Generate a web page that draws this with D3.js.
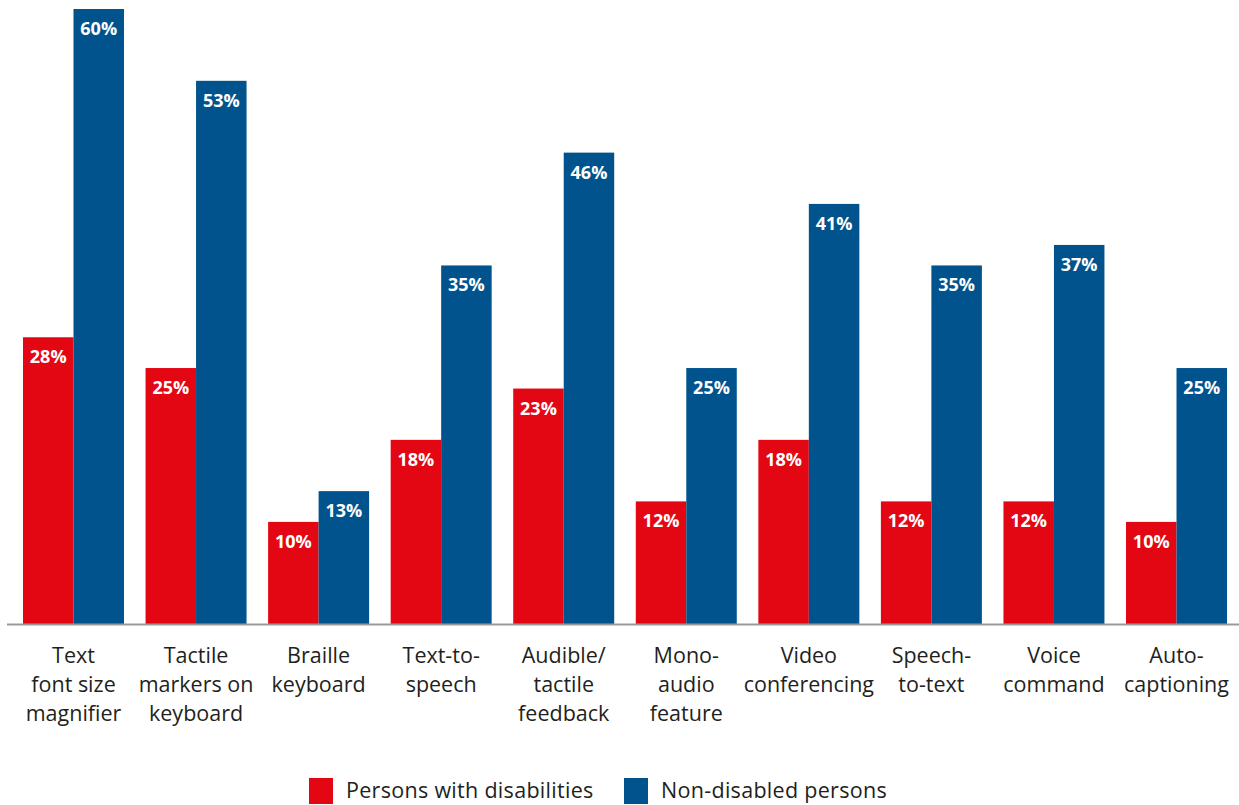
<!DOCTYPE html>
<html>
<head>
<meta charset="utf-8">
<script src="https://cdn.jsdelivr.net/npm/d3@7"></script>
<style>
  html, body { margin: 0; padding: 0; background: #fff; }
  svg { display: block; }
</style>
</head>
<body>
<svg id="chart" width="1239" height="805"></svg>
<script>
// Categories (each entry split into its display lines)
const categories = [
  ["Text", "font size", "magnifier"],
  ["Tactile", "markers on", "keyboard"],
  ["Braille", "keyboard"],
  ["Text-to-", "speech"],
  ["Audible/", "tactile", "feedback"],
  ["Mono-", "audio", "feature"],
  ["Video", "conferencing"],
  ["Speech-", "to-text"],
  ["Voice", "command"],
  ["Auto-", "captioning"]
];
const seriesNames = ["Persons with disabilities", "Non-disabled persons"];
const disabledValues = [28, 25, 10, 18, 23, 12, 18, 12, 12, 10];
const nonDisabledValues = [60, 53, 13, 35, 46, 25, 41, 35, 37, 25];
const colors = ["#e30613", "#00538c"];

const svg = d3.select("#chart");
const baseline = 624.5;

const x0 = d3.scaleBand()
  .domain(d3.range(categories.length))
  .range([23, 1227])
  .paddingInner(0.176)
  .paddingOuter(0);

const x1 = d3.scaleBand()
  .domain([0, 1])
  .range([0, x0.bandwidth()])
  .padding(0);

const y = d3.scaleLinear().domain([0, 60]).range([baseline, 9]);

const rows = categories.map((c, i) => ({
  i,
  lines: c,
  vals: [disabledValues[i], nonDisabledValues[i]]
}));

const groups = svg.append("g").selectAll("g")
  .data(rows)
  .join("g")
  .attr("transform", d => `translate(${x0(d.i)},0)`);

groups.selectAll("rect")
  .data(d => d.vals.map((v, s) => ({ v, s })))
  .join("rect")
  .attr("x", d => x1(d.s))
  .attr("y", d => y(d.v))
  .attr("width", x1.bandwidth())
  .attr("height", d => baseline - y(d.v))
  .attr("fill", d => colors[d.s]);

groups.selectAll("text.val")
  .data(d => d.vals.map((v, s) => ({ v, s })))
  .join("text")
  .attr("class", "val")
  .attr("x", d => x1(d.s) + x1.bandwidth() / 2)
  .attr("y", d => y(d.v) + 26)
  .attr("text-anchor", "middle")
  .attr("fill", "#fff")
  .attr("font-family", "'Open Sans', sans-serif")
  .attr("font-weight", 700)
  .attr("font-size", 18)
  .text(d => d.v + "%");

// Baseline axis
svg.append("line")
  .attr("x1", 7).attr("x2", 1239)
  .attr("y1", baseline).attr("y2", baseline)
  .attr("stroke", "#9b9b9b")
  .attr("stroke-width", 2);

// Category labels
const labels = svg.append("g").selectAll("text")
  .data(rows)
  .join("text")
  .attr("text-anchor", "middle")
  .attr("fill", "#231f20")
  .attr("font-family", "'Open Sans', sans-serif")
  .attr("font-size", 21.5)
  .attr("transform", d => `translate(${x0(d.i) + x0.bandwidth() / 2},0)`);

labels.selectAll("tspan")
  .data(d => d.lines)
  .join("tspan")
  .attr("x", 0)
  .attr("y", (d, k) => 663 + k * 29)
  .text(d => d);

// Legend
const legendItems = [
  { name: seriesNames[0], color: colors[0], x: 309 },
  { name: seriesNames[1], color: colors[1], x: 624 }
];
const lg = svg.append("g").selectAll("g")
  .data(legendItems)
  .join("g")
  .attr("transform", d => `translate(${d.x},0)`);
lg.append("rect")
  .attr("x", 0).attr("y", 778)
  .attr("width", 24).attr("height", 26)
  .attr("fill", d => d.color);
lg.append("text")
  .attr("x", 37).attr("y", 798)
  .attr("fill", "#231f20")
  .attr("font-family", "'Open Sans', sans-serif")
  .attr("font-size", 21.5)
  .attr("letter-spacing", 0.3)
  .text(d => d.name);
</script>
</body>
</html>
